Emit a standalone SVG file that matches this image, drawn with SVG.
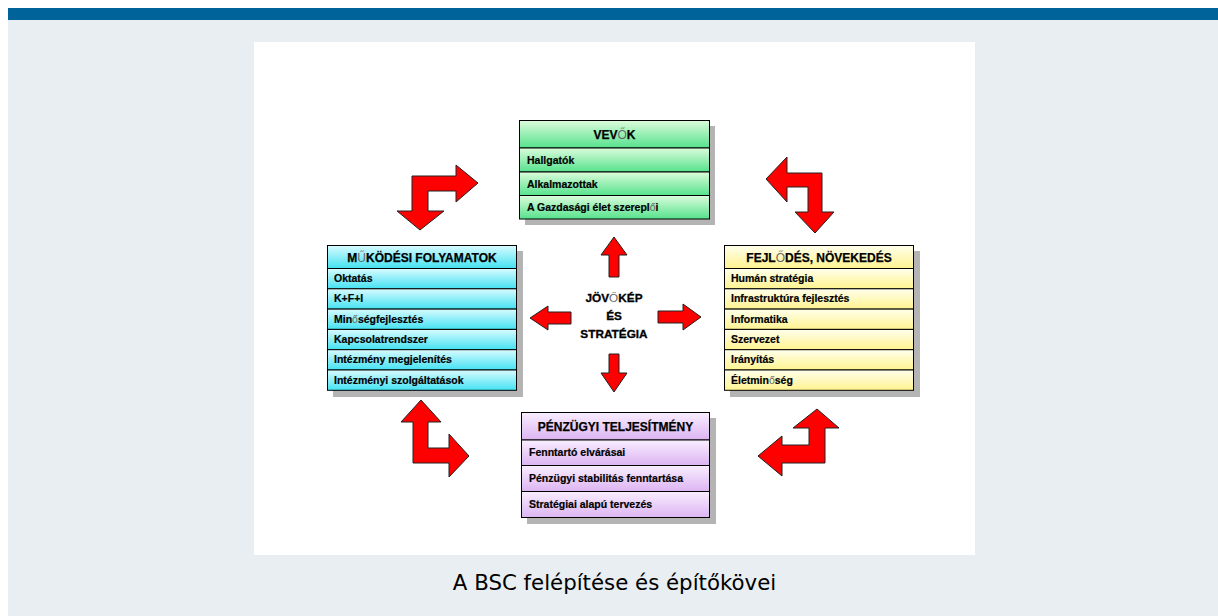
<svg xmlns="http://www.w3.org/2000/svg" width="1218" height="616" viewBox="0 0 1218 616">
  <defs>
    <linearGradient id="gGreen" x1="0" y1="0" x2="0" y2="1">
      <stop offset="0" stop-color="#dcfcdc"/>
      <stop offset="1" stop-color="#55e28c"/>
    </linearGradient>
    <linearGradient id="gCyan" x1="0" y1="0" x2="0" y2="1">
      <stop offset="0" stop-color="#d8fbff"/>
      <stop offset="1" stop-color="#44e2f2"/>
    </linearGradient>
    <linearGradient id="gYellow" x1="0" y1="0" x2="0" y2="1">
      <stop offset="0" stop-color="#ffffec"/>
      <stop offset="1" stop-color="#fff390"/>
    </linearGradient>
    <linearGradient id="gPurple" x1="0" y1="0" x2="0" y2="1">
      <stop offset="0" stop-color="#f9eeff"/>
      <stop offset="1" stop-color="#dcb4f2"/>
    </linearGradient>
  </defs>
  <style>
    .shadow { fill: #b4b4b4; }
    .cell { stroke: #000; stroke-width: 1; }
    .green { fill: url(#gGreen); }
    .cyan { fill: url(#gCyan); }
    .yellow { fill: url(#gYellow); }
    .purple { fill: url(#gPurple); }
    .head { font-family: "Liberation Sans", Arial, sans-serif; font-weight: bold; font-size: 12px; fill: #000; stroke: #000; stroke-width: 0.25; text-anchor: middle; }
    .item { font-family: "Liberation Sans", Arial, sans-serif; font-weight: bold; font-size: 10.5px; fill: #000; stroke: #000; stroke-width: 0.2; }
    .alt { font-weight: normal; fill: #666; stroke: none; }
    .core { font-family: "Liberation Sans", Arial, sans-serif; font-weight: bold; font-size: 11.8px; fill: #000; stroke: #000; stroke-width: 0.3; text-anchor: middle; }
    .arrow { fill: #ff0000; stroke: #222; stroke-width: 1; stroke-linejoin: miter; }
    .caption { font-family: "DejaVu Sans", Verdana, sans-serif; font-size: 21.3px; fill: #000; text-anchor: middle; }
  </style>

  <!-- page background -->
  <rect x="0" y="0" width="1218" height="616" fill="#ffffff"/>
  <rect x="8" y="20" width="1210" height="596" fill="#e8eef1"/>
  <rect x="8" y="8" width="1210" height="12" fill="#00639a"/>
  <rect x="254" y="42" width="721" height="513" fill="#ffffff"/>

  <!-- customers -->
  <g id="vevok">
    <rect class="shadow" x="525" y="126" width="190" height="99"/>
    <rect class="cell green" x="519.5" y="120.5" width="190" height="27.5"/>
    <rect class="cell green" x="519.5" y="148" width="190" height="24"/>
    <rect class="cell green" x="519.5" y="172" width="190" height="23.5"/>
    <rect class="cell green" x="519.5" y="195.5" width="190" height="23.5"/>
    <text class="head" x="614.5" y="138.5">VEV<tspan class="alt">Ő</tspan>K</text>
    <text class="item" x="527" y="164">Hallgatók</text>
    <text class="item" x="527" y="187.5">Alkalmazottak</text>
    <text class="item" x="527" y="211">A Gazdasági élet szerepl<tspan class="alt">ő</tspan>i</text>
  </g>

  <!-- internal processes -->
  <g id="mukodesi">
    <rect class="shadow" x="333" y="251" width="190" height="146"/>
    <rect class="cell cyan" x="327.5" y="245.5" width="189" height="23"/>
    <rect class="cell cyan" x="327.5" y="268.5" width="189" height="20.3"/>
    <rect class="cell cyan" x="327.5" y="288.8" width="189" height="20.3"/>
    <rect class="cell cyan" x="327.5" y="309.1" width="189" height="20.3"/>
    <rect class="cell cyan" x="327.5" y="329.4" width="189" height="20.3"/>
    <rect class="cell cyan" x="327.5" y="349.7" width="189" height="20.3"/>
    <rect class="cell cyan" x="327.5" y="370" width="189" height="20.3"/>
    <text class="head" x="422" y="261.5">M<tspan class="alt">Ű</tspan>KÖDÉSI FOLYAMATOK</text>
    <text class="item" x="334" y="282">Oktatás</text>
    <text class="item" x="334" y="302.3">K+F+I</text>
    <text class="item" x="334" y="322.6">Min<tspan class="alt">ő</tspan>ségfejlesztés</text>
    <text class="item" x="334" y="342.9">Kapcsolatrendszer</text>
    <text class="item" x="334" y="363.2">Intézmény megjelenítés</text>
    <text class="item" x="334" y="383.5">Intézményi szolgáltatások</text>
  </g>

  <!-- learning and growth -->
  <g id="fejlodes">
    <rect class="shadow" x="730" y="251" width="190" height="146"/>
    <rect class="cell yellow" x="724.5" y="245.5" width="189" height="23"/>
    <rect class="cell yellow" x="724.5" y="268.5" width="189" height="20.3"/>
    <rect class="cell yellow" x="724.5" y="288.8" width="189" height="20.3"/>
    <rect class="cell yellow" x="724.5" y="309.1" width="189" height="20.3"/>
    <rect class="cell yellow" x="724.5" y="329.4" width="189" height="20.3"/>
    <rect class="cell yellow" x="724.5" y="349.7" width="189" height="20.3"/>
    <rect class="cell yellow" x="724.5" y="370" width="189" height="20.3"/>
    <text class="head" x="819" y="261.5">FEJL<tspan class="alt">Ő</tspan>DÉS, NÖVEKEDÉS</text>
    <text class="item" x="731" y="282">Humán stratégia</text>
    <text class="item" x="731" y="302.3">Infrastruktúra fejlesztés</text>
    <text class="item" x="731" y="322.6">Informatika</text>
    <text class="item" x="731" y="342.9">Szervezet</text>
    <text class="item" x="731" y="363.2">Irányítás</text>
    <text class="item" x="731" y="383.5">Életmin<tspan class="alt">ő</tspan>ség</text>
  </g>

  <!-- financial -->
  <g id="penzugyi">
    <rect class="shadow" x="527" y="418" width="189" height="106"/>
    <rect class="cell purple" x="521.5" y="412.5" width="188" height="27.5"/>
    <rect class="cell purple" x="521.5" y="440" width="188" height="25.5"/>
    <rect class="cell purple" x="521.5" y="465.5" width="188" height="26"/>
    <rect class="cell purple" x="521.5" y="491.5" width="188" height="26"/>
    <text class="head" x="615.5" y="431">PÉNZÜGYI TELJESÍTMÉNY</text>
    <text class="item" x="529" y="456">Fenntartó elvárásai</text>
    <text class="item" x="529" y="481.8">Pénzügyi stabilitás fenntartása</text>
    <text class="item" x="529" y="507.8">Stratégiai alapú tervezés</text>
  </g>

  <!-- vision and strategy -->
  <g id="jovokep">
    <text class="core" x="614" y="302">JÖV<tspan class="alt">Ő</tspan>KÉP</text>
    <text class="core" x="614" y="320">ÉS</text>
    <text class="core" x="614" y="338">STRATÉGIA</text>
  </g>

  <!-- connectors -->
  <g id="connectors">
    <!-- straight arrows from the centre -->
    <polygon class="arrow" points="614,237 627,255 619,255 619,277 609,277 609,255 601,255"/>
    <polygon class="arrow" points="609,354 619,354 619,373 627,373 614,392 601,373 609,373"/>
    <polygon class="arrow" points="530,318 548,306 548,312 571,312 571,324 548,324 548,330"/>
    <polygon class="arrow" points="658,311 683,311 683,304 701,317 683,330 683,323 658,323"/>
    <!-- bent arrows between the perspectives -->
    <polygon class="arrow" points="478,183 456,165 456,176 412,176 412,211 397,211 420,230 444,211 428,211 428,191 456,191 456,202"/>
    <polygon class="arrow" points="766,179 787,157 787,173 822,173 822,212 834,212 815,233 795,212 808,212 808,187 787,187 787,202"/>
    <polygon class="arrow" points="421,400 441,422 428,422 428,448 449,448 449,434 469,456 449,477 449,463 413,463 413,422 401,422"/>
    <polygon class="arrow" points="817,409 839,428 825,428 825,463 782,463 782,476 758,456 782,436 782,445 809,445 809,428 793,428"/>
  </g>

  <text class="caption" x="614.5" y="590">A BSC felépítése és építőkövei</text>
</svg>
